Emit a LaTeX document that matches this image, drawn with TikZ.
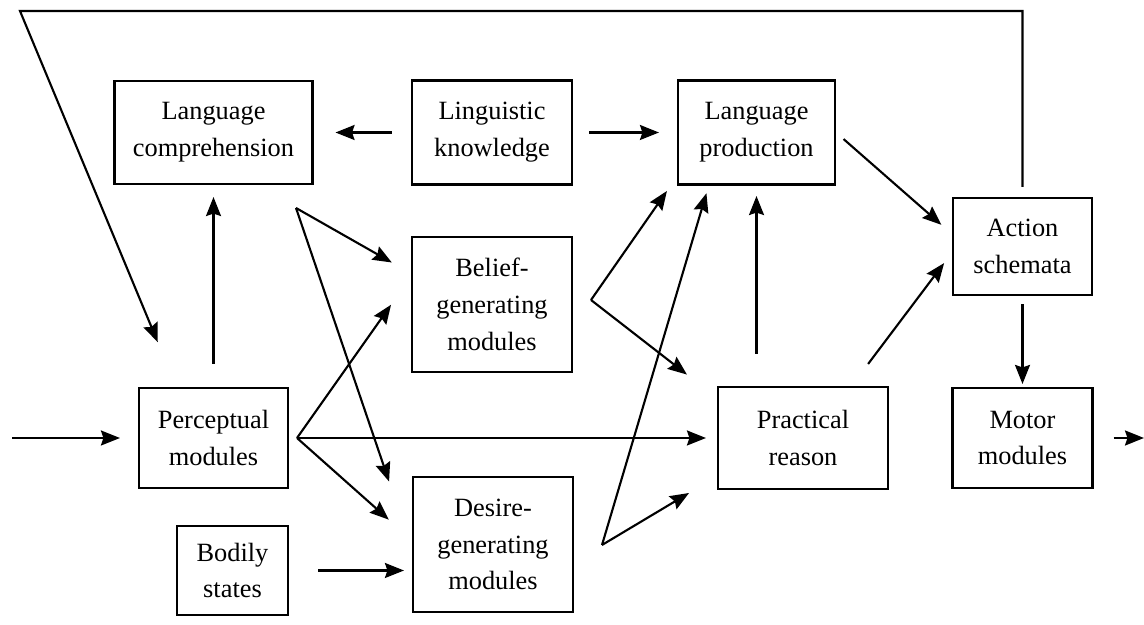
\documentclass[tikz,border=0pt]{standalone}
\usepackage{fontspec}
\setmainfont{Liberation Serif}
\usetikzlibrary{arrows.meta,calc,positioning}

\begin{document}
\begin{tikzpicture}[
  box/.style={draw, line width=1.2pt, align=center, inner sep=2pt, font=\fontsize{15}{21}\selectfont},
  arr/.style={line width=1.2pt, -{Stealth[length=0.38cm,width=0.3cm,inset=0.05cm]}}]
\useasboundingbox (0,0) rectangle (22.88,12.5);
% boxes
\node (lcomp) at (4.27,9.85) [box, minimum width=3.96cm, minimum height=2.06cm] {Language\\comprehension};
\node (lknow) at (9.84,9.85) [box, minimum width=3.2cm, minimum height=2.08cm] {Linguistic\\knowledge};
\node (lprod) at (15.13,9.85) [box, minimum width=3.14cm, minimum height=2.08cm] {Language\\production};
\node (belief) at (9.84,6.41) [box, minimum width=3.2cm, minimum height=2.7cm] {Belief-\\generating\\modules};
\node (desire) at (9.86,1.61) [box, minimum width=3.2cm, minimum height=2.7cm] {Desire-\\generating\\modules};
\node (percep) at (4.27,3.74) [box, minimum width=2.98cm, minimum height=2.0cm] {Perceptual\\modules};
\node (bodily) at (4.65,1.09) [box, minimum width=2.22cm, minimum height=1.78cm] {Bodily\\states};
\node (practical) at (16.06,3.74) [box, minimum width=3.4cm, minimum height=2.04cm] {Practical\\reason};
\node (action) at (20.45,7.57) [box, minimum width=2.78cm, minimum height=1.94cm] {Action\\schemata};
\node (motor) at (20.45,3.74) [box, minimum width=2.8cm, minimum height=2.0cm] {Motor\\modules};
% free ends and fan points
\coordinate (in) at (0.24,3.74);
\coordinate (out) at (22.88,3.74);
\coordinate (topleft) at (0.40,12.28);
\coordinate (lcout) at (5.92,8.34);
\coordinate (pmout) at (5.94,3.74);
\coordinate (bgout) at (11.82,6.50);
\coordinate (dgout) at (12.04,1.60);
% arrows
\draw[arr, shorten >=0.36cm] (in) -- (percep.west);
\draw[arr, shorten <=0.40cm] (motor.east) -- (out);
\draw[arr, shorten <=0.46cm, shorten >=0.24cm] (percep.north) -- (lcomp.south);
\draw[arr, shorten <=0.38cm, shorten >=0.44cm] (lknow.west) -- (lcomp.east);
\draw[arr, shorten <=0.32cm, shorten >=0.36cm] (lknow.east) -- (lprod.west);
\draw[arr, shorten >=0.44cm] (lcout) -- (belief.159);
\draw[arr, shorten >=1.42cm] (lcout) -- (desire.183);
\draw[arr, shorten >=0.69cm] (pmout) -- (belief.161);
\draw[arr, shorten >=0.62cm] (pmout) -- (desire.177);
\draw[arr, shorten >=0.22cm] (pmout) -- (practical.west);
\draw[arr, shorten <=0.58cm, shorten >=0.16cm] (bodily.east) -- (bodily.east -| desire.west);
\draw[arr, shorten >=0.35cm] (bgout) -- (lprod.209);
\draw[arr, shorten >=0.76cm] (bgout) -- (practical.155);
\draw[arr, shorten >=0.16cm] (dgout) -- (lprod.228);
\draw[arr, shorten >=0.65cm] (dgout) -- (practical.204);
\draw[arr, shorten <=0.64cm, shorten >=0.21cm] (lprod.south |- practical.north) -- (lprod.south);
\draw[arr, shorten <=0.55cm, shorten >=0.26cm] (practical.47) -- (action.185);
\draw[arr, shorten <=0.20cm, shorten >=0.28cm] (lprod.east) -- (action.170);
\draw[arr, shorten <=0.16cm, shorten >=0.06cm] (action.south) -- (motor.north);
% feedback loop over the top
\draw[arr, shorten <=0.20cm, shorten >=0.97cm] (action.north) |- (topleft) -- (percep.126);
\end{tikzpicture}
\end{document}
